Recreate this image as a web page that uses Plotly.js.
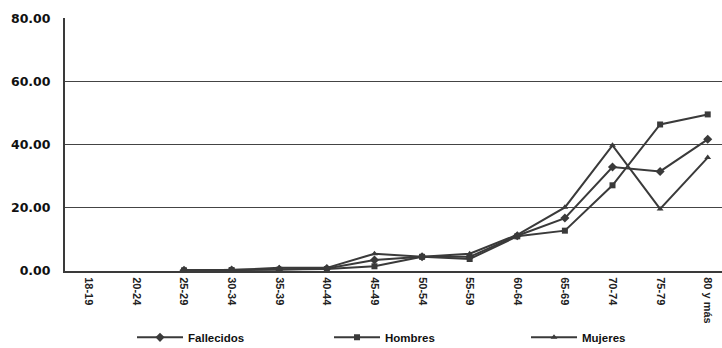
<!DOCTYPE html>
<html><head><meta charset="utf-8">
<script src="https://cdn.plot.ly/plotly-3.0.1.min.js"></script>
<style>html,body{margin:0;padding:0;background:#fff}</style>
</head><body><div id="chart" style="width:722px;height:348px"></div>
<script>
const categories = ['18-19','20-24','25-29','30-34','35-39','40-44','45-49','50-54','55-59','60-64','65-69','70-74','75-79','80 y más'];
const fallecidos = [null,null,0.2,0.3,0.5,0.8,3.5,4.5,4.5,11.2,16.8,33.0,31.6,41.8];
const hombres    = [null,null,0.2,0.3,0.4,0.6,1.5,4.5,3.8,11.0,12.8,27.2,46.5,49.7];
const mujeres    = [null,null,0.2,0.3,1.0,1.0,5.5,4.5,5.5,11.5,20.2,39.9,19.7,36.0];
const yTicks = [0,20,40,60,80];

const lineColor = '#3a3a3a';
const font = {family:'Liberation Sans, Arial, sans-serif', color:'#111'};
function tr(name, y, sym, size){
  return {x:categories, y:y, name:name, type:'scatter', mode:'lines+markers',
    line:{color:lineColor, width:2}, marker:{symbol:sym, size:size, color:lineColor},
    connectgaps:false};
}
const data = [
  tr('<b>Fallecidos</b>', fallecidos, 'diamond', 7),
  tr('<b>Hombres</b>', hombres, 'square', 6),
  tr('<b>Mujeres</b>', mujeres, 'triangle-up', 6)
];
const layout = {
  width:722, height:348,
  margin:{l:65, r:0, t:18, b:77, autoexpand:false},
  paper_bgcolor:'#fff', plot_bgcolor:'#fff',
  font:font,
  showlegend:true,
  legend:{orientation:'h', x:0.102, y:-0.205, xanchor:'left', yanchor:'top',
    font:{size:11.5, family:font.family, color:'#111'}, entrywidth:136, itemwidth:46,
    tracegroupgap:0},
  xaxis:{type:'category', range:[-0.5,13.3], tickangle:90, showgrid:false, automargin:false,
    showline:true, linecolor:lineColor, linewidth:2, ticks:'', ticklabelstandoff:2,
    tickfont:{size:11, family:font.family, color:'#222', weight:'bold'}},
  yaxis:{range:[0,80.3], tickvals:yTicks, tickformat:'.2f', showgrid:true, automargin:false,
    gridcolor:'#444', gridwidth:1, showline:true, linecolor:lineColor, linewidth:2,
    ticks:'', zeroline:false, ticklen:0, ticklabelstandoff:10,
    tickfont:{size:12.5, family:'DejaVu Sans, sans-serif', color:'#111', weight:'bold'}}
};
Plotly.newPlot('chart', data, layout, {staticPlot:true, displayModeBar:false});
</script></body></html>
